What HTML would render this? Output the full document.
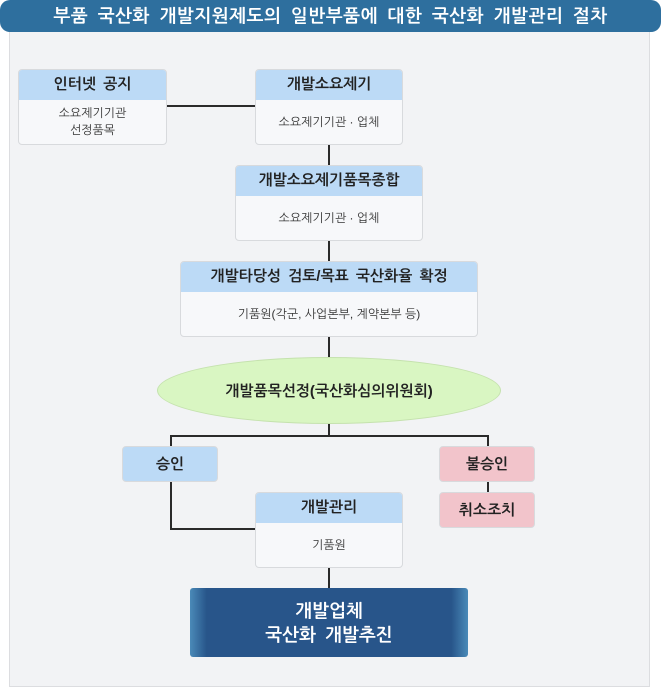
<!DOCTYPE html>
<html><head><meta charset="utf-8"><style>
body{margin:0;width:661px;height:687px;position:relative;background:#fff;font-family:"Liberation Sans","NanumGothic","Noto Sans CJK KR",sans-serif;overflow:hidden}
.abs{position:absolute;box-sizing:border-box}
.title{left:0;top:0;width:661px;height:32px;background:#2e6f9e;border-radius:10px;color:#fff;font-size:18px;font-weight:bold;text-align:center;line-height:32px;word-spacing:4px;letter-spacing:0.5px}
.panel{left:9px;top:28px;width:641px;height:659px;background:#f2f3f5;border:1px solid #dcdde0;z-index:-1}
.box{background:#f7f8fa;border:1px solid #d8dadd;border-radius:4px;overflow:hidden;text-align:center}
.box .h{background:#bcdaf6;height:30px;line-height:30px;font-size:15px;font-weight:bold;color:#222;word-spacing:3px}
.box .b{font-size:12px;color:#333;line-height:17px}
.ln{background:#2a2a2a}
.sm{border-radius:4px;text-align:center;font-size:15px;font-weight:bold;color:#222;line-height:35px;border:1px solid #d8dadd}
</style></head><body>
<div class="abs panel"></div>
<div class="abs title">부품 국산화 개발지원제도의 일반부품에 대한 국산화 개발관리 절차</div>

<div class="abs ln" style="left:167px;top:105px;width:88px;height:2px"></div>
<div class="abs ln" style="left:328px;top:144px;width:2px;height:292px"></div>
<div class="abs ln" style="left:170px;top:435px;width:319px;height:2px"></div>
<div class="abs ln" style="left:170px;top:435px;width:2px;height:12px"></div>
<div class="abs ln" style="left:487px;top:435px;width:2px;height:12px"></div>
<div class="abs ln" style="left:170px;top:481px;width:2px;height:49px"></div>
<div class="abs ln" style="left:170px;top:528px;width:86px;height:2px"></div>
<div class="abs ln" style="left:487px;top:481px;width:2px;height:12px"></div>
<div class="abs ln" style="left:328px;top:566px;width:2px;height:23px"></div>

<div class="abs box" style="left:18px;top:69px;width:149px;height:76px"><div class="h">인터넷 공지</div><div class="b" style="padding-top:5px">소요제기기관<br>선정품목</div></div>
<div class="abs box" style="left:255px;top:69px;width:148px;height:76px"><div class="h">개발소요제기</div><div class="b" style="padding-top:14px">소요제기기관 · 업체</div></div>
<div class="abs box" style="left:235px;top:165px;width:188px;height:76px"><div class="h">개발소요제기품목종합</div><div class="b" style="padding-top:14px">소요제기기관 · 업체</div></div>
<div class="abs box" style="left:180px;top:261px;width:298px;height:76px"><div class="h">개발타당성 검토/목표 국산화율 확정</div><div class="b" style="padding-top:14px">기품원(각군, 사업본부, 계약본부 등)</div></div>
<div class="abs" style="left:157px;top:357px;width:344px;height:67px;border-radius:50%;background:#d9f6c2;border:1px solid #c5e2ae;text-align:center;line-height:67px;font-size:15px;font-weight:bold;color:#222">개발품목선정(국산화심의위원회)</div>

<div class="abs sm" style="left:122px;top:446px;width:96px;height:36px;background:#bcdaf6">승인</div>
<div class="abs sm" style="left:439px;top:446px;width:96px;height:36px;background:#f2c4cb">불승인</div>
<div class="abs sm" style="left:439px;top:492px;width:96px;height:36px;background:#f2c4cb">취소조치</div>
<div class="abs box" style="left:255px;top:492px;width:148px;height:76px"><div class="h">개발관리</div><div class="b" style="padding-top:14px">기품원</div></div>

<div class="abs" style="left:190px;top:588px;width:278px;height:69px;border-radius:3px;background:linear-gradient(90deg,#4a8ab8 0,#28558a 6%,#28558a 94%,#4a8ab8 100%);color:#fff;font-size:18px;font-weight:bold;text-align:center;padding-top:11px;line-height:24px;word-spacing:4px">개발업체<br>국산화 개발추진</div>
</body></html>
